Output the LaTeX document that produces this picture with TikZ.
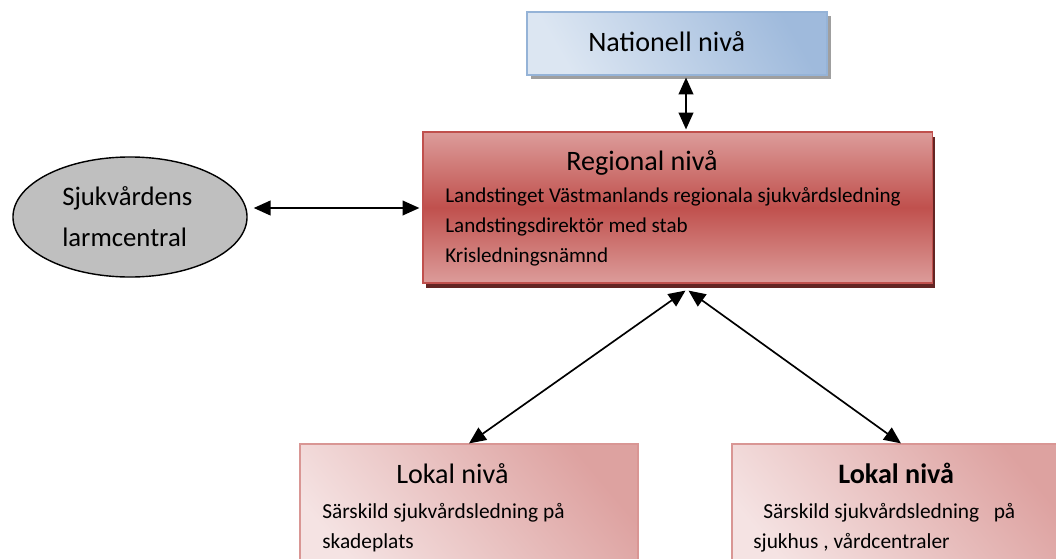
\documentclass[tikz,border=0pt]{standalone}
\usepackage{fontspec}
\setmainfont{Carlito}
\usetikzlibrary{arrows.meta,shapes,calc,shadows}
\definecolor{natlight}{HTML}{DCE6F2}
\definecolor{natdark}{HTML}{9FBADC}
\definecolor{natline}{HTML}{95B3D7}
\definecolor{regmid}{HTML}{C0504D}
\definecolor{regedge}{HTML}{DC9C9A}
\definecolor{regline}{HTML}{C0504D}
\definecolor{regshadow}{HTML}{632523}
\definecolor{loklight}{HTML}{F5E3E3}
\definecolor{lokdark}{HTML}{D99694}
\definecolor{ellgray}{HTML}{BFBFBF}

\begin{document}
\begin{tikzpicture}[x=0.025cm,y=-0.025cm]
\useasboundingbox (0,0) rectangle (1056,558);
\tikzstyle{nat}=[draw=natline,line width=0.8pt,left color=natlight,right color=natdark,shading angle=120,
  minimum width=7.5cm,minimum height=1.575cm,
  drop shadow={shadow xshift=2.8pt,shadow yshift=-2.8pt,fill=gray!75,opacity=1}];
\tikzstyle{reg}=[draw=regline,line width=0.8pt,top color=regedge,bottom color=regedge,middle color=regmid,
  minimum width=12.725cm,minimum height=3.775cm,
  drop shadow={shadow xshift=2pt,shadow yshift=-3.5pt,fill=regshadow,opacity=1}];
\tikzstyle{lok}=[draw=lokdark,line width=0.8pt,left color=loklight,right color=lokdark!85!loklight,shading angle=130,
  minimum width=8.45cm,minimum height=3.4cm];
\tikzstyle{txt}=[anchor=base west,inner sep=0pt];
\tikzstyle{conn}=[{Triangle[length=12pt,width=10.5pt]}-{Triangle[length=12pt,width=10.5pt]},line width=1.2pt];
% boxes
\node[nat] (nat) at (677,43.5) {};
\node[reg] (reg) at (677.5,207.5) {};
\node[draw,line width=1pt,ellipse,fill=ellgray,minimum width=5.85cm,minimum height=3cm] (ell) at (130,217) {};
\node[lok] (lok1) at (469,512) {};
\node[lok] (lok2) at (901,512) {};
% texts
\node[txt,font=\fontsize{20}{24}\selectfont] (natT) at (588,52) {Nationell nivå};
\node[txt,align=left,font=\fontsize{19}{28.5}\selectfont] (ellT) at (62,246) {Sjukvårdens\\larmcentral};
\node[txt,font=\fontsize{20}{24}\selectfont] (regT) at (566,170) {Regional nivå};
\node[txt,font=\fontsize{15}{18}\selectfont] (reg1) at (445,202) {Landstinget Västmanlands regionala sjukvårdsledning};
\node[txt,font=\fontsize{15}{18}\selectfont] (reg2) at (445,232) {Landstingsdirektör med stab};
\node[txt,font=\fontsize{15}{18}\selectfont] (reg3) at (445,262) {Krisledningsnämnd};
\node[txt,font=\fontsize{20}{24}\selectfont] (lok1T) at (396,483) {Lokal nivå};
\node[txt,font=\fontsize{15.2}{18}\selectfont] (lok1a) at (322,518) {Särskild sjukvårdsledning på};
\node[txt,font=\fontsize{15.2}{18}\selectfont] (lok1b) at (322,548) {skadeplats};
\node[txt,font=\fontsize{20}{24}\selectfont\bfseries] (lok2T) at (838,483) {Lokal nivå};
\node[txt,font=\fontsize{15.2}{18}\selectfont] (lok2a) at (763,518) {Särskild sjukvårdsledning \ \ på};
\node[txt,font=\fontsize{15.2}{18}\selectfont] (lok2b) at (753,548) {sjukhus , vårdcentraler};
% arrows
\draw[conn] ($(nat.south)+(9,2)$) -- ($(reg.north)+(8.5,-2)$);
\draw[conn] ($(ell.east)+(6,-9)$) -- ($(reg.west)+(-3,0.5)$);
\draw[conn] ($(reg.south)+(8,7)$) -- (lok1.north);
\draw[conn] ($(reg.south)+(11,7)$) -- (lok2.north);
\end{tikzpicture}
\end{document}
